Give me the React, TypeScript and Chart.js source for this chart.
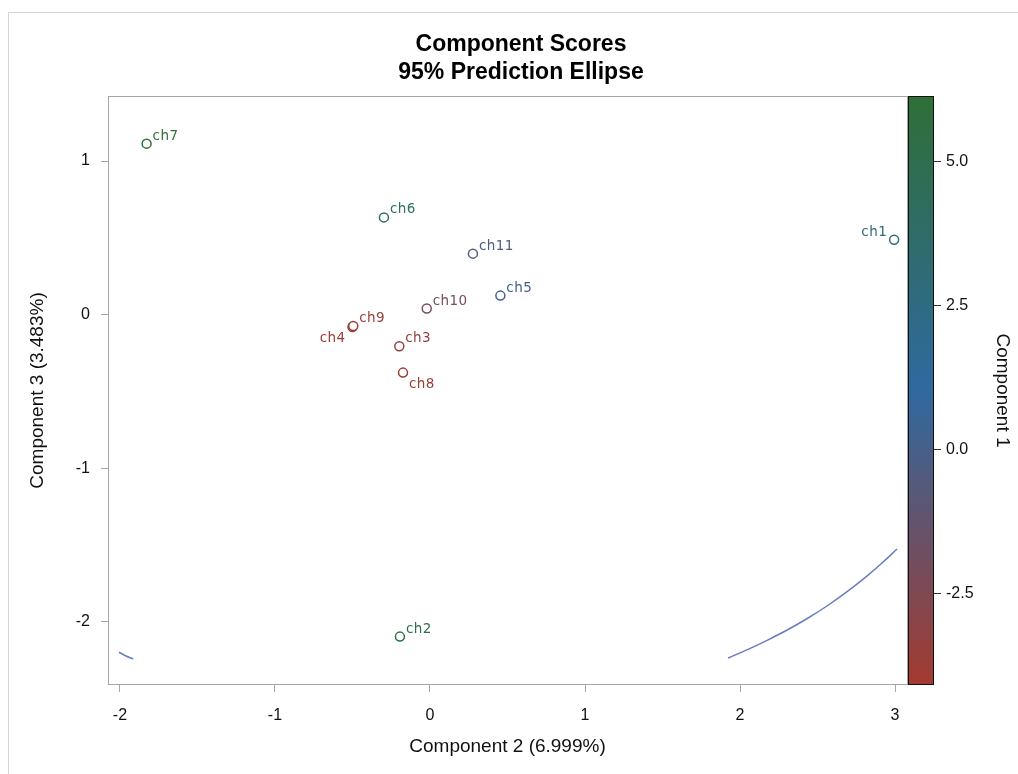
import React, { useEffect, useRef } from "react";
import { Chart, registerables } from "chart.js";

Chart.register(...registerables);

// ---- data ----
const LABELS = ["ch1", "ch2", "ch3", "ch4", "ch5", "ch6", "ch7", "ch8", "ch9", "ch10", "ch11"];
const COMP2 = [2.994, -0.194, -0.198, -0.5, 0.454, -0.297, -1.828, -0.174, -0.495, -0.021, 0.277];
const COMP3 = [0.488, -2.095, -0.206, -0.08, 0.124, 0.633, 1.113, -0.377, -0.074, 0.04, 0.397];
const COMP1 = [3.0, 5.3, -3.4, -3.8, 0.1, 3.7, 6.0, -3.7, -3.6, -2.0, -0.3];
const LABEL_POS = ["nw", "ne", "ne", "sw", "ne", "ne", "ne", "se", "ne", "ne", "ne"];

const ELLIPSE_RIGHT_X = [1.923, 2.052, 2.181, 2.31, 2.439, 2.568, 2.697, 2.826, 2.923, 3.013];
const ELLIPSE_RIGHT_Y = [-2.234, -2.178, -2.116, -2.049, -1.974, -1.891, -1.798, -1.695, -1.61, -1.525];
const ELLIPSE_LEFT_X = [-2.006, -1.961, -1.914];
const ELLIPSE_LEFT_Y = [-2.197, -2.221, -2.24];

const X_TICKS = [-2, -1, 0, 1, 2, 3];
const Y_TICKS = [-2, -1, 0, 1];
const CBAR_TICKS = [-2.5, 0, 2.5, 5];
const X_MIN = -2.077, X_MAX = 3.077;
const Y_MIN = -2.41, Y_MAX = 1.423;
const CBAR_MIN = -4.08, CBAR_MAX = 6.13;
const RAMP = ["#a33a2f", "#2f69a0", "#2f6f36"];

const TITLE = ["Component Scores", "95% Prediction Ellipse"];
const X_TITLE = "Component 2 (6.999%)";
const Y_TITLE = "Component 3 (3.483%)";
const CBAR_TITLE = "Component 1";

const FONT = "'Liberation Sans', Arial, sans-serif";
const LABEL_FONT = "'DejaVu Sans', Verdana, sans-serif";

const CANVAS_W = 1042;
const CANVAS_H = 774;

function hexToRgb(h: string) {
  const n = parseInt(h.slice(1), 16);
  return [(n >> 16) & 255, (n >> 8) & 255, n & 255];
}
function rampColor(v: number) {
  let t = (v - CBAR_MIN) / (CBAR_MAX - CBAR_MIN);
  t = Math.max(0, Math.min(1, t));
  let a, b, f;
  if (t < 0.5) { a = hexToRgb(RAMP[0]); b = hexToRgb(RAMP[1]); f = t * 2; }
  else { a = hexToRgb(RAMP[1]); b = hexToRgb(RAMP[2]); f = (t - 0.5) * 2; }
  const c = a.map((x, i) => Math.round(x + (b[i] - x) * f));
  return `rgb(${c[0]},${c[1]},${c[2]})`;
}

const POINT_COLORS = COMP1.map(rampColor);

const framePlugin = {
  id: "frame",
  beforeDatasetsDraw(chart: any) {
    const { ctx, chartArea: a } = chart;
    ctx.save();
    ctx.strokeStyle = "#a6a6a6";
    ctx.lineWidth = 1;
    ctx.strokeRect(Math.round(a.left) + 0.5, Math.round(a.top) + 0.5, Math.round(a.right - a.left), Math.round(a.bottom - a.top) - 1);
    ctx.restore();
  },
  afterDraw(chart: any) {
    const { ctx, chartArea: a } = chart;
    const s = chart.scales.y2;
    const top = s.getPixelForValue(CBAR_MAX);
    const bottom = s.getPixelForValue(CBAR_MIN);
    const x0 = Math.round(a.right) + 1;
    const w = 26;
    ctx.save();
    const g = ctx.createLinearGradient(0, bottom, 0, top);
    g.addColorStop(0, RAMP[0]);
    g.addColorStop(0.5, RAMP[1]);
    g.addColorStop(1, RAMP[2]);
    ctx.fillStyle = g;
    ctx.fillRect(x0, top, w, bottom - top);
    ctx.strokeStyle = "#111";
    ctx.lineWidth = 1;
    ctx.strokeRect(x0 + 0.5, Math.round(top) + 0.5, w - 1, Math.round(bottom - top) - 1);
    ctx.restore();
  },
};

const labelPlugin = {
  id: "ptlabels",
  afterDatasetsDraw(chart: any) {
    const { ctx } = chart;
    const xs = chart.scales.x, ys = chart.scales.y;
    ctx.save();
    ctx.font = `13.5px ${LABEL_FONT}`;
    try { (ctx as any).letterSpacing = "0.4px"; } catch (e) {}
    ctx.textBaseline = "alphabetic";
    LABELS.forEach((lab, i) => {
      const px = xs.getPixelForValue(COMP2[i]);
      const py = ys.getPixelForValue(COMP3[i]);
      const pos = LABEL_POS[i];
      ctx.fillStyle = POINT_COLORS[i];
      const east = pos.includes("e");
      const north = pos.includes("n");
      ctx.textAlign = east ? "left" : "right";
      const dx = east ? 6 : -7;
      const dy = north ? -4 : 15;
      ctx.fillText(lab, px + dx, py + dy);
    });
    ctx.restore();
  },
};

export default function App() {
  const ref = useRef<HTMLCanvasElement | null>(null);
  useEffect(() => {
    if (!ref.current) return;
    const tickFont = { family: FONT, size: 16 };
    const titleFont = { family: FONT, size: 19, lineHeight: 1.2 };
    const chart = new Chart(ref.current, {
      type: "scatter",
      data: {
        datasets: [
          {
            label: "ellipseRight",
            data: ELLIPSE_RIGHT_X.map((x, i) => ({ x, y: ELLIPSE_RIGHT_Y[i] })),
            showLine: true,
            borderColor: "#6a7cc0",
            borderWidth: 1.5,
            pointRadius: 0,
            cubicInterpolationMode: "monotone",
            fill: false,
          },
          {
            label: "ellipseLeft",
            data: ELLIPSE_LEFT_X.map((x, i) => ({ x, y: ELLIPSE_LEFT_Y[i] })),
            showLine: true,
            borderColor: "#6a7cc0",
            borderWidth: 1.5,
            pointRadius: 0,
            cubicInterpolationMode: "monotone",
            fill: false,
          },
          {
            label: "scores",
            data: COMP2.map((x, i) => ({ x, y: COMP3[i] })),
            pointStyle: "circle",
            pointRadius: 4.5,
            pointBorderWidth: 1.5,
            pointBackgroundColor: "#ffffff",
            pointBorderColor: POINT_COLORS,
            showLine: false,
          },
        ],
      },
      options: {
        animation: false,
        responsive: false,
        maintainAspectRatio: false,
        layout: { padding: 0 },
        plugins: {
          legend: { display: false },
          tooltip: { enabled: false },
          title: {
            display: true,
            text: TITLE,
            color: "#000",
            font: { family: FONT, size: 23, weight: "bold", lineHeight: 28 / 23 },
            padding: { top: 31, bottom: 9 },
          },
        },
        scales: {
          x: {
            type: "linear",
            position: "bottom",
            min: X_MIN,
            max: X_MAX,
            afterBuildTicks: (s: any) => { s.ticks = X_TICKS.map((v) => ({ value: v })); },
            afterFit: (s: any) => { s.height = 89; },
            grid: { drawOnChartArea: false, drawTicks: true, tickLength: 7, color: "#a6a6a6" },
            border: { display: false },
            ticks: { font: tickFont, color: "#111", padding: 14, maxRotation: 0, callback: (v: any) => String(v) },
            title: { display: true, text: X_TITLE, font: titleFont, color: "#111", padding: { top: 0, bottom: 16 } },
          },
          y: {
            type: "linear",
            position: "left",
            min: Y_MIN,
            max: Y_MAX,
            afterBuildTicks: (s: any) => { s.ticks = Y_TICKS.map((v) => ({ value: v })); },
            afterFit: (s: any) => { s.width = 108; },
            grid: { drawOnChartArea: false, drawTicks: true, tickLength: 7, color: "#a6a6a6" },
            border: { display: false },
            ticks: { font: tickFont, color: "#111", padding: 11, callback: (v: any) => String(v) },
            title: { display: true, text: Y_TITLE, font: titleFont, color: "#111", padding: { top: 26, bottom: 0 } },
          },
          y2: {
            type: "linear",
            position: "right",
            min: CBAR_MIN,
            max: CBAR_MAX,
            afterBuildTicks: (s: any) => { s.ticks = CBAR_TICKS.map((v) => ({ value: v })); },
            afterFit: (s: any) => { s.width = 111 + (CANVAS_W - 1018); },
            grid: { drawOnChartArea: false, drawTicks: true, tickLength: 34, color: "#333" },
            border: { display: false },
            ticks: { font: tickFont, color: "#111", padding: 5, callback: (v: any) => Number(v).toFixed(1) },
            title: { display: true, text: CBAR_TITLE, font: titleFont, color: "#111", padding: { top: 4 + (CANVAS_W - 1018), bottom: 0 } },
          },
        },
      },
      plugins: [framePlugin, labelPlugin],
    } as any);
    return () => chart.destroy();
  }, []);

  return (
    <div style={{ position: "absolute", left: 0, top: 0, width: 1018, height: 774, overflow: "hidden", background: "#fff" }}>
      <div
        style={{
          position: "absolute",
          left: 8,
          top: 12,
          right: -2,
          bottom: -2,
          borderTop: "1px solid #d4d4d4",
          borderLeft: "1px solid #d4d4d4",
        }}
      />
      <canvas ref={ref} width={CANVAS_W} height={CANVAS_H} style={{ position: "absolute", left: 0, top: 0, width: CANVAS_W, height: CANVAS_H }} />
    </div>
  );
}
